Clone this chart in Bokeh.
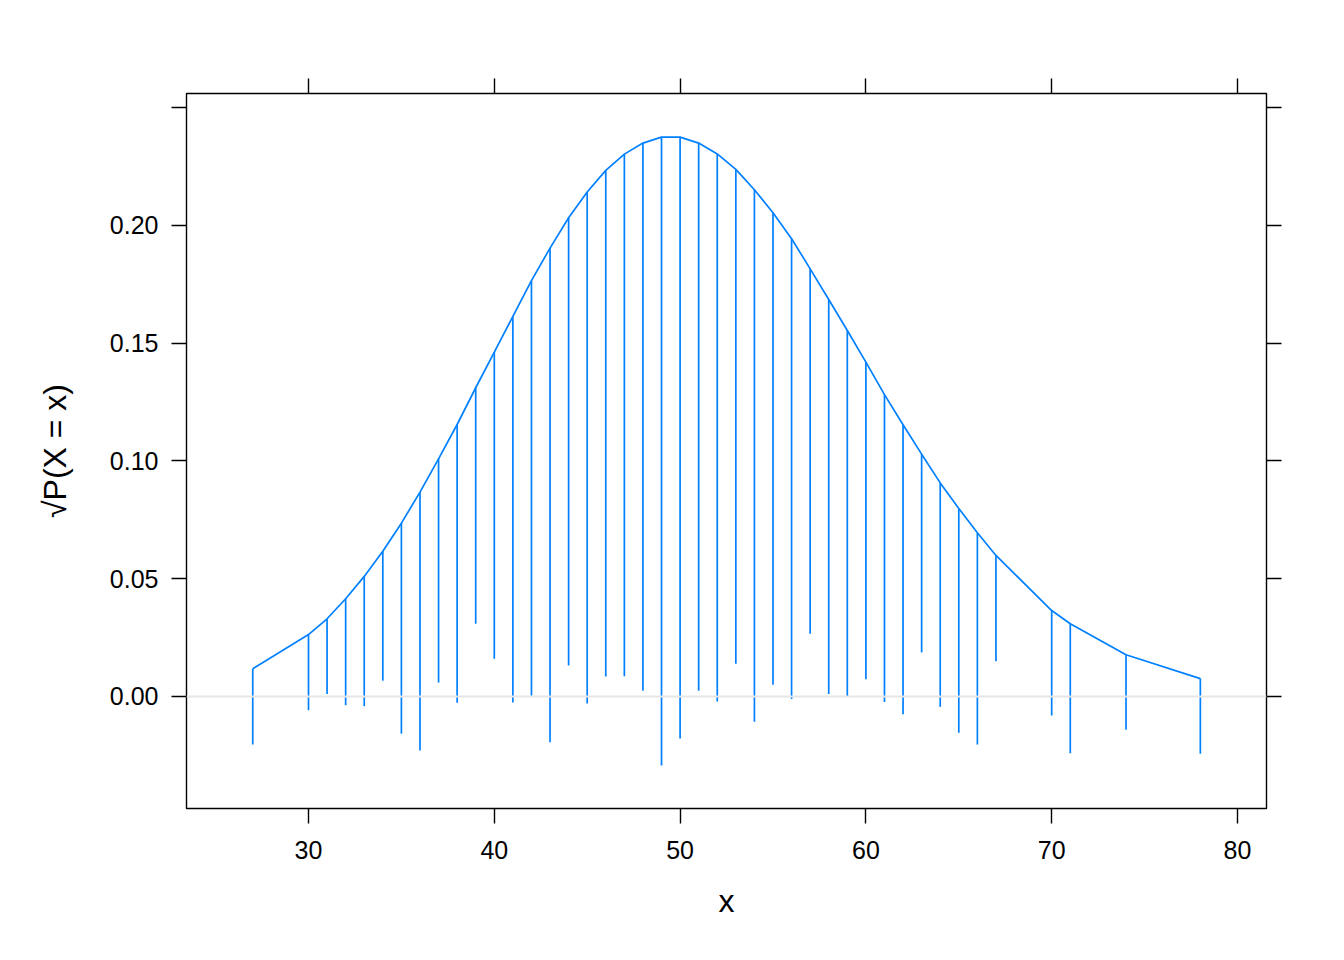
from bokeh.plotting import figure
from bokeh.models import Range1d, LinearAxis, FixedTicker, Span, ColumnDataSource
from bokeh.embed import file_html
from bokeh.resources import INLINE

# values
x_vals = [27, 30, 31, 32, 33, 34, 35, 36, 37, 38, 39, 40, 41, 42, 43, 44, 45, 46, 47, 48,
          49, 50, 51, 52, 53, 54, 55, 56, 57, 58, 59, 60, 61, 62, 63, 64, 65, 66, 67, 70,
          71, 74, 78]
# sqrt of expected probability (top of each hanging bar, the curve)
sqrt_expected = [0.0118, 0.0263, 0.0330, 0.0415, 0.0510, 0.0617, 0.0736, 0.0868, 0.1009, 0.1155,
                 0.1311, 0.1462, 0.1614, 0.1766, 0.1904, 0.2033, 0.2142, 0.2234, 0.2303, 0.2350,
                 0.2375, 0.2375, 0.2350, 0.2304, 0.2238, 0.2152, 0.2054, 0.1944, 0.1816, 0.1686,
                 0.1554, 0.1420, 0.1282, 0.1154, 0.1029, 0.0907, 0.0798, 0.0695, 0.0599, 0.0365,
                 0.0309, 0.0177, 0.0076]
# bottom end of each hanging bar (expected root minus observed root)
bar_bottom = [-0.0204, -0.0058, 0.0011, -0.0037, -0.0041, 0.0067, -0.0158, -0.0229, 0.0059, -0.0027,
              0.0309, 0.0160, -0.0025, 0.0003, -0.0194, 0.0132, -0.0030, 0.0085, 0.0086, 0.0024,
              -0.0293, -0.0178, 0.0024, -0.0021, 0.0139, -0.0107, 0.0050, -0.0011, 0.0266, 0.0011,
              0.0000, 0.0073, -0.0023, -0.0075, 0.0187, -0.0044, -0.0154, -0.0204, 0.0150, -0.0081,
              -0.0241, -0.0141, -0.0243]

x_ticks = [30, 40, 50, 60, 70, 80]
y_ticks = [0.0, 0.05, 0.10, 0.15, 0.20, 0.25]
y_tick_labels = {0.0: "0.00", 0.05: "0.05", 0.1: "0.10", 0.15: "0.15", 0.2: "0.20", 0.25: ""}

FONT = "Liberation Sans"
BLUE = "#0080ff"

src = ColumnDataSource(dict(x=x_vals, top=sqrt_expected, bottom=bar_bottom))

p = figure(width=1328, height=944, output_backend="svg", toolbar_location=None,
           x_range=Range1d(23.434, 81.561), y_range=Range1d(-0.04756, 0.25605),
           x_axis_location=None, y_axis_location=None,
           min_border_left=186, min_border_right=62, min_border_top=93, min_border_bottom=136)
p.grid.visible = False
p.outline_line_color = "black"
p.outline_line_width = 1.4
p.background_fill_color = "white"
p.border_fill_color = "white"

def style(ax, labels=True):
    ax.axis_line_color = None
    ax.major_tick_line_color = "black"
    ax.major_tick_line_width = 1.4
    ax.major_tick_out = 15
    ax.major_tick_in = 0
    ax.minor_tick_line_color = None
    ax.major_label_text_font = FONT
    ax.major_label_text_font_size = "25px"
    ax.major_label_text_color = "black" if labels else None
    ax.axis_label_text_font = FONT
    ax.axis_label_text_font_style = "normal"
    ax.axis_label_text_font_size = "32px"
    ax.axis_label_text_color = "black"

xb = LinearAxis(ticker=FixedTicker(ticks=x_ticks), axis_label="x")
style(xb)
xb.major_label_standoff = 17
xb.axis_label_standoff = 21
xt = LinearAxis(ticker=FixedTicker(ticks=x_ticks))
style(xt, labels=False)
yl = LinearAxis(ticker=FixedTicker(ticks=y_ticks), axis_label="√P(X = x)",
                major_label_overrides=y_tick_labels)
style(yl)
yl.major_label_standoff = 13
yl.axis_label_standoff = 34
yr = LinearAxis(ticker=FixedTicker(ticks=y_ticks))
style(yr, labels=False)

p.add_layout(xb, "below")
p.add_layout(xt, "above")
p.add_layout(yl, "left")
p.add_layout(yr, "right")

p.add_layout(Span(location=0, dimension="width", line_color="#e6e6e6", line_width=1.8))

p.segment(x0="x", y0="bottom", x1="x", y1="top", source=src, line_color=BLUE, line_width=1.7)
p.line(x="x", y="top", source=src, line_color=BLUE, line_width=1.7)

open("out.html", "w").write(file_html(p, INLINE))
